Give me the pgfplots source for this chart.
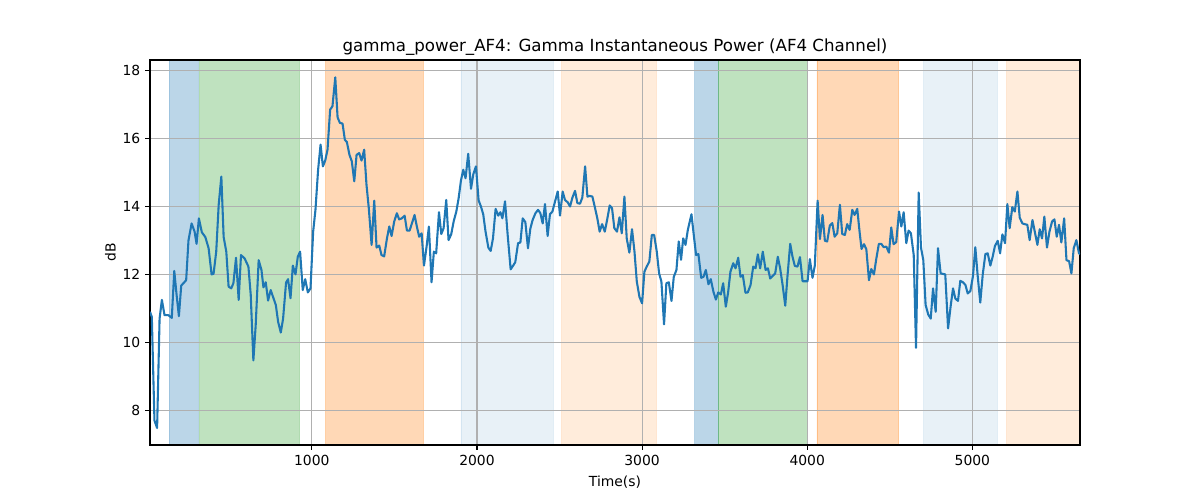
\documentclass[border=0pt]{standalone}
\usepackage{fontspec}
\setmainfont{DejaVu Sans}
\usepackage{pgfplots}
\pgfplotsset{compat=1.18}
\definecolor{tabblue}{HTML}{1F77B4}
\definecolor{taborange}{HTML}{FF7F0E}
\definecolor{tabgreen}{HTML}{2CA02C}
\definecolor{gridgray}{HTML}{B0B0B0}
\begin{document}
\fontsize{10}{12}\selectfont
\begin{tikzpicture}
\begin{axis}[
  at={(0,0)}, anchor=south west,
  scale only axis, width=669.6pt, height=277.2pt,
  set layers=standard,
  xmin=20, xmax=5652, ymin=6.98, ymax=18.31,
  xtick={1000,2000,3000,4000,5000},
  ytick={8,10,12,14,16,18},
  /pgf/number format/assume math mode=true,
  /pgf/number format/1000 sep={},
  tick label style={font=\fontsize{10}{12}\selectfont},
  tick pos=left, tick align=outside, major tick length=3.5pt,
  every tick/.style={black, line width=0.8pt},
  grid=major, grid style={gridgray, line width=0.8pt},
  axis line style={black, line width=0.8pt},
  title={gamma\_power\_AF4: Gamma Instantaneous Power (AF4 Channel)},
  title style={font=\fontsize{12}{14}\selectfont, yshift=-6.3pt},
  xlabel={Time(s)}, ylabel={dB},
  label style={font=\fontsize{10}{12}\selectfont},
  xlabel style={yshift=-0.6pt},
  ylabel style={yshift=-2pt},
]
% shaded spans (kept inside the axis limits)
\addplot[on layer=axis background, draw=tabblue, draw opacity=0.3, fill=tabblue, fill opacity=0.3] coordinates {(138,6.98) (312,6.98) (312,18.31) (138,18.31) (138,6.98)};
\addplot[on layer=axis background, draw=tabgreen, draw opacity=0.3, fill=tabgreen, fill opacity=0.3] coordinates {(320,6.98) (925,6.98) (925,18.31) (320,18.31) (320,6.98)};
\addplot[on layer=axis background, draw=taborange, draw opacity=0.3, fill=taborange, fill opacity=0.3] coordinates {(1084,6.98) (1675,6.98) (1675,18.31) (1084,18.31) (1084,6.98)};
\addplot[on layer=axis background, draw=tabblue, draw opacity=0.1, fill=tabblue, fill opacity=0.1] coordinates {(1903,6.98) (2463,6.98) (2463,18.31) (1903,18.31) (1903,6.98)};
\addplot[on layer=axis background, draw=taborange, draw opacity=0.15, fill=taborange, fill opacity=0.15] coordinates {(2513,6.98) (3087,6.98) (3087,18.31) (2513,18.31) (2513,6.98)};
\addplot[on layer=axis background, draw=tabblue, draw opacity=0.3, fill=tabblue, fill opacity=0.3] coordinates {(3319,6.98) (3461,6.98) (3461,18.31) (3319,18.31) (3319,6.98)};
\addplot[on layer=axis background, draw=tabgreen, draw opacity=0.3, fill=tabgreen, fill opacity=0.3] coordinates {(3461,6.98) (4000,6.98) (4000,18.31) (3461,18.31) (3461,6.98)};
\addplot[on layer=axis background, draw=taborange, draw opacity=0.3, fill=taborange, fill opacity=0.3] coordinates {(4059,6.98) (4554,6.98) (4554,18.31) (4059,18.31) (4059,6.98)};
\addplot[on layer=axis background, draw=tabblue, draw opacity=0.1, fill=tabblue, fill opacity=0.1] coordinates {(4705,6.98) (5152,6.98) (5152,18.31) (4705,18.31) (4705,6.98)};
\addplot[on layer=axis background, draw=taborange, draw opacity=0.15, fill=taborange, fill opacity=0.15] coordinates {(5208,6.98) (5652,6.98) (5652,18.31) (5208,18.31) (5208,6.98)};
% signal
\addplot[tabblue, line width=1.5pt, line join=round, mark=none] coordinates {
(20,10.9)(31,10.75)(47,7.7)(63,7.48)(78,10.7)(92,11.25)(108,10.8)(132,10.8)(152,10.72)(167,12.1)
(181,11.4)(195,10.77)(209,11.67)(239,11.83)(253,13.0)(272,13.5)(290,13.26)(302,12.9)(316,13.65)(334,13.24)
(355,13.1)(375,12.77)(393,12.0)(405,12.02)(421,12.67)(436,14.05)(452,14.88)(466,13.1)(482,12.67)(496,11.64)
(512,11.59)(525,11.74)(541,12.49)(557,11.25)(571,12.57)(593,12.47)(616,12.23)(630,11.4)(646,9.47)(660,10.5)
(678,12.42)(695,12.13)(707,11.62)(721,11.77)(735,11.23)(751,11.54)(765,11.34)(782,11.1)(796,10.6)(812,10.29)
(826,10.7)(844,11.76)(856,11.86)(871,11.3)(885,12.26)(901,12.0)(915,12.52)(929,12.67)(945,11.54)(960,11.86)
(976,11.47)(992,11.59)(1008,13.26)(1022,13.9)(1038,15.08)(1053,15.82)(1067,15.18)(1081,15.35)(1095,15.67)(1111,16.85)
(1125,16.95)(1142,17.8)(1156,16.62)(1170,16.46)(1186,16.44)(1200,15.96)(1212,15.9)(1228,15.52)(1242,15.33)(1257,14.74)
(1271,15.52)(1287,15.57)(1301,15.35)(1317,15.67)(1331,14.64)(1345,13.95)(1362,12.87)(1378,14.17)(1392,12.79)(1408,12.85)
(1422,12.57)(1438,12.53)(1455,13.06)(1469,13.41)(1483,13.13)(1499,13.56)(1515,13.8)(1529,13.62)(1545,13.65)(1562,13.73)
(1576,13.29)(1592,13.29)(1606,13.5)(1622,13.75)(1636,13.41)(1650,13.11)(1665,13.21)(1679,12.26)(1695,12.82)(1709,13.41)
(1725,11.77)(1739,12.67)(1753,12.62)(1770,13.83)(1784,13.19)(1798,13.36)(1814,14.19)(1828,13.01)(1844,13.18)(1859,13.56)
(1875,13.85)(1889,14.24)(1903,14.76)(1917,15.08)(1931,14.83)(1947,15.55)(1964,14.52)(1978,14.95)(1994,15.18)(2010,14.18)
(2024,14.0)(2038,13.77)(2052,13.26)(2069,12.79)(2083,12.69)(2097,13.06)(2113,13.93)(2129,13.73)(2142,13.83)(2154,13.65)
(2170,14.15)(2186,13.16)(2204,12.15)(2218,12.25)(2232,12.36)(2249,12.92)(2263,12.94)(2277,13.65)(2293,13.54)(2309,12.77)
(2323,13.34)(2337,13.6)(2354,13.8)(2370,13.9)(2384,13.8)(2398,13.5)(2412,14.07)(2428,13.13)(2442,13.77)(2457,13.85)
(2473,14.15)(2489,14.44)(2503,13.73)(2519,14.44)(2533,14.19)(2550,14.12)(2564,14.0)(2578,14.26)(2594,14.46)(2608,14.1)
(2624,14.08)(2638,14.26)(2655,15.18)(2669,14.29)(2683,14.31)(2699,14.29)(2713,14.0)(2729,13.65)(2743,13.26)(2758,13.48)
(2774,13.26)(2788,13.6)(2804,14.03)(2818,13.95)(2832,13.36)(2848,13.26)(2863,13.68)(2877,13.21)(2893,14.29)(2907,13.06)
(2923,12.64)(2939,13.33)(2954,12.67)(2968,11.79)(2984,11.34)(3000,11.15)(3014,12.08)(3028,12.23)(3044,12.38)(3059,13.16)
(3073,13.16)(3089,12.67)(3103,12.03)(3117,11.79)(3133,10.53)(3147,11.74)(3162,11.77)(3178,11.22)(3192,11.93)(3208,12.13)
(3222,12.97)(3236,12.43)(3249,13.06)(3263,12.87)(3277,13.31)(3299,13.77)(3313,13.16)(3327,12.57)(3341,12.6)(3358,11.9)
(3372,11.93)(3386,12.13)(3402,11.71)(3416,11.86)(3432,11.49)(3447,11.26)(3461,11.47)(3477,11.41)(3491,11.74)(3507,11.05)
(3521,11.47)(3535,12.08)(3552,12.33)(3566,12.18)(3582,12.49)(3596,11.93)(3610,11.98)(3626,11.46)(3640,11.47)(3657,11.69)
(3673,12.23)(3687,12.18)(3701,12.59)(3715,12.18)(3731,12.67)(3748,12.13)(3762,12.18)(3776,11.88)(3792,11.96)(3806,12.03)
(3822,12.52)(3836,12.18)(3851,11.69)(3867,11.08)(3881,11.98)(3897,12.9)(3911,12.52)(3925,12.25)(3941,12.23)(3956,12.51)
(3972,11.8)(4002,11.8)(4016,12.45)(4032,11.9)(4046,12.26)(4063,14.17)(4077,13.04)(4093,13.75)(4107,12.99)(4121,12.97)
(4137,13.44)(4152,13.51)(4166,13.11)(4182,13.21)(4198,14.05)(4212,13.19)(4228,13.16)(4242,13.48)(4257,13.31)(4273,13.9)
(4287,13.75)(4303,13.93)(4317,13.26)(4329,12.75)(4344,12.89)(4358,12.74)(4374,11.83)(4388,12.16)(4404,12.0)(4418,12.45)
(4434,12.9)(4449,12.9)(4463,12.8)(4479,12.82)(4495,12.64)(4509,13.38)(4523,12.89)(4539,12.95)(4556,13.85)(4570,13.41)
(4584,13.83)(4600,12.92)(4614,13.29)(4628,13.21)(4645,12.57)(4659,9.84)(4675,14.41)(4689,12.79)(4703,12.42)(4717,11.1)
(4733,10.82)(4748,10.7)(4762,11.59)(4778,10.9)(4792,12.77)(4808,12.03)(4836,12.0)(4853,10.41)(4869,11.08)(4883,11.59)
(4897,11.29)(4913,11.22)(4927,11.81)(4943,11.77)(4958,11.69)(4972,11.44)(4988,11.51)(5004,11.96)(5018,12.8)(5032,11.98)
(5048,11.17)(5063,12.0)(5079,12.6)(5093,12.62)(5109,12.26)(5123,12.52)(5137,12.84)(5154,12.99)(5168,12.62)(5182,13.18)
(5198,12.92)(5212,14.07)(5226,13.36)(5242,13.98)(5257,13.85)(5273,14.44)(5287,13.67)(5303,13.5)(5317,13.48)(5333,13.46)
(5347,13.01)(5364,13.6)(5378,13.26)(5394,12.87)(5408,13.33)(5422,13.06)(5436,13.7)(5452,12.79)(5467,13.26)(5483,13.56)
(5497,13.62)(5511,13.11)(5525,13.46)(5539,12.94)(5556,13.65)(5570,12.42)(5586,12.39)(5600,12.03)(5614,12.77)(5630,13.01)
(5646,12.62)(5652,12.6)
};
\end{axis}
\path (-108pt,-39.6pt) rectangle (756pt,320.4pt);
\end{tikzpicture}
\end{document}
